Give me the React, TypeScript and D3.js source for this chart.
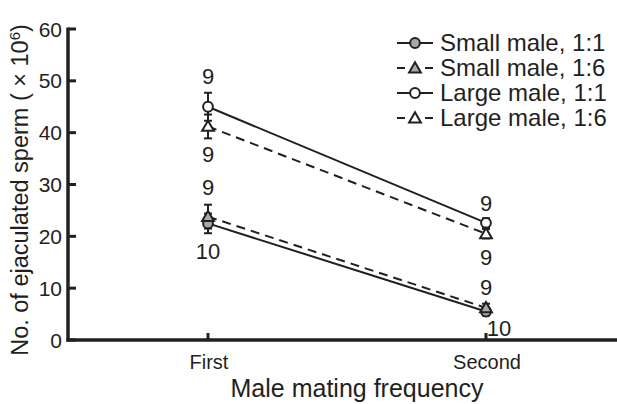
import React from "react";
import * as d3 from "d3";

const categories = ["First", "Second"];
const seriesNames = ["Small male, 1:1", "Small male, 1:6", "Large male, 1:1", "Large male, 1:6"];
const smallOne = [22.5, 5.5];
const smallSix = [23.8, 6.2];
const largeOne = [45.0, 22.6];
const largeSix = [41.2, 20.5];
const smallOneErr = [1.9, 0.8];
const smallSixErr = [2.3, 0.8];
const largeOneErr = [2.7, 0.9];
const largeSixErr = [2.3, 0.9];
const yTicks = [0, 10, 20, 30, 40, 50, 60];
const nLabels = [
  { cat: 0, text: "9", y: 50.9 },
  { cat: 0, text: "9", y: 35.8 },
  { cat: 0, text: "9", y: 29.5 },
  { cat: 0, text: "10", y: 17.2 },
  { cat: 1, text: "9", y: 26.4 },
  { cat: 1, text: "9", y: 16.0 },
  { cat: 1, text: "9", y: 10.2 },
  { cat: 1, text: "10", y: 2.4 },
];

const W = 617, H = 404;
const left = 68, top = 29, bottom = 340, right = 617;
const FONT = "Liberation Sans, Arial, Helvetica, sans-serif";
const INK = "#231f20";

export default function App() {
  const y = d3.scaleLinear().domain([0, 60]).range([bottom, top]);
  const x = d3.scalePoint().domain(categories).range([208, 486]);

  const series = [
    { name: seriesNames[0], vals: smallOne, err: smallOneErr, shape: "circle", fill: "#a7a9ac", dash: null },
    { name: seriesNames[1], vals: smallSix, err: smallSixErr, shape: "triangle", fill: "#a7a9ac", dash: "9,6" },
    { name: seriesNames[2], vals: largeOne, err: largeOneErr, shape: "circle", fill: "#fff", dash: null },
    { name: seriesNames[3], vals: largeSix, err: largeSixErr, shape: "triangle", fill: "#fff", dash: "9,6" },
  ];

  const line = d3.line<number>().x((_, i) => x(categories[i])!).y((d) => y(d));
  const tri = d3.symbol().type(d3.symbolTriangle).size(60);
  const circ = d3.symbol().type(d3.symbolCircle).size(75);

  const marker = (shape: string, fill: string, cx: number, cy: number, key: string) => (
    <path
      key={key}
      d={(shape === "circle" ? circ : tri)()!}
      transform={`translate(${cx},${cy + (shape === "triangle" ? 1 : 0)})`}
      fill={fill}
      stroke={INK}
      strokeWidth={2}
    />
  );

  return (
    <svg width={W} height={H} style={{ display: "block", position: "absolute", left: 0, top: 0 }}>
      <rect width={W} height={H} fill="#fff" />
      {series.map((s) => (
        <path key={s.name} d={line(s.vals)!} fill="none" stroke={INK} strokeWidth={2} strokeDasharray={s.dash ?? undefined} />
      ))}
      {series.map((s) =>
        s.vals.map((v, i) => {
          const cx = x(categories[i])!;
          return (
            <g key={s.name + i} stroke={INK} strokeWidth={2}>
              <line x1={cx} x2={cx} y1={y(v - s.err[i])} y2={y(v + s.err[i])} />
              <line x1={cx - 4} x2={cx + 4} y1={y(v - s.err[i])} y2={y(v - s.err[i])} />
              <line x1={cx - 4} x2={cx + 4} y1={y(v + s.err[i])} y2={y(v + s.err[i])} />
            </g>
          );
        })
      )}
      {series.map((s) => s.vals.map((v, i) => marker(s.shape, s.fill, x(categories[i])!, y(v), s.name + "m" + i)))}
      {nLabels.map((l, i) => (
        <text
          key={"n" + i}
          x={x(categories[l.cat])! + (l.text === "10" && l.cat === 1 ? 13 : 0)}
          y={y(l.y) + 8}
          textAnchor="middle"
          fontFamily={FONT}
          fontSize={22}
          fill={INK}
        >
          {l.text}
        </text>
      ))}
      <line x1={left} x2={left} y1={top - 1.5} y2={bottom + 1.5} stroke={INK} strokeWidth={3.5} />
      {yTicks.map((t) => (
        <g key={t}>
          <line x1={left} x2={left + 8} y1={y(t)} y2={y(t)} stroke={INK} strokeWidth={3} />
          <text x={left - 6} y={y(t) + 7.5} textAnchor="end" fontFamily={FONT} fontSize={21} fill={INK}>
            {t}
          </text>
        </g>
      ))}
      <line x1={left - 1.5} x2={right} y1={bottom} y2={bottom} stroke={INK} strokeWidth={3.5} />
      {categories.map((c) => (
        <g key={c}>
          <line x1={x(c)!} x2={x(c)!} y1={bottom} y2={bottom - 7} stroke={INK} strokeWidth={3} />
          <text x={x(c)! + 1} y={369} textAnchor="middle" fontFamily={FONT} fontSize={20} fill={INK}>
            {c}
          </text>
        </g>
      ))}
      <text x={357} y={397} textAnchor="middle" fontFamily={FONT} fontSize={25} fill={INK}>
        Male mating frequency
      </text>
      <text
        transform={`translate(28,${190}) rotate(-90)`}
        textAnchor="middle"
        fontFamily={FONT}
        fontSize={23.5}
        fill={INK}
      >
        No. of ejaculated sperm ( × 10<tspan dy={-8} fontSize={15}>6</tspan><tspan dy={8}>)</tspan>
      </text>
      {series.map((s, i) => {
        const ly = 43 + i * 25;
        return (
          <g key={"lg" + i}>
            <line x1={397} x2={433} y1={ly} y2={ly} stroke={INK} strokeWidth={2} strokeDasharray={s.dash ? "8,20" : undefined} />
            {marker(s.shape, s.fill, 415, ly, "lgm" + i)}
            <text x={440} y={ly + 8} fontFamily={FONT} fontSize={24} fill={INK}>
              {s.name}
            </text>
          </g>
        );
      })}
    </svg>
  );
}
